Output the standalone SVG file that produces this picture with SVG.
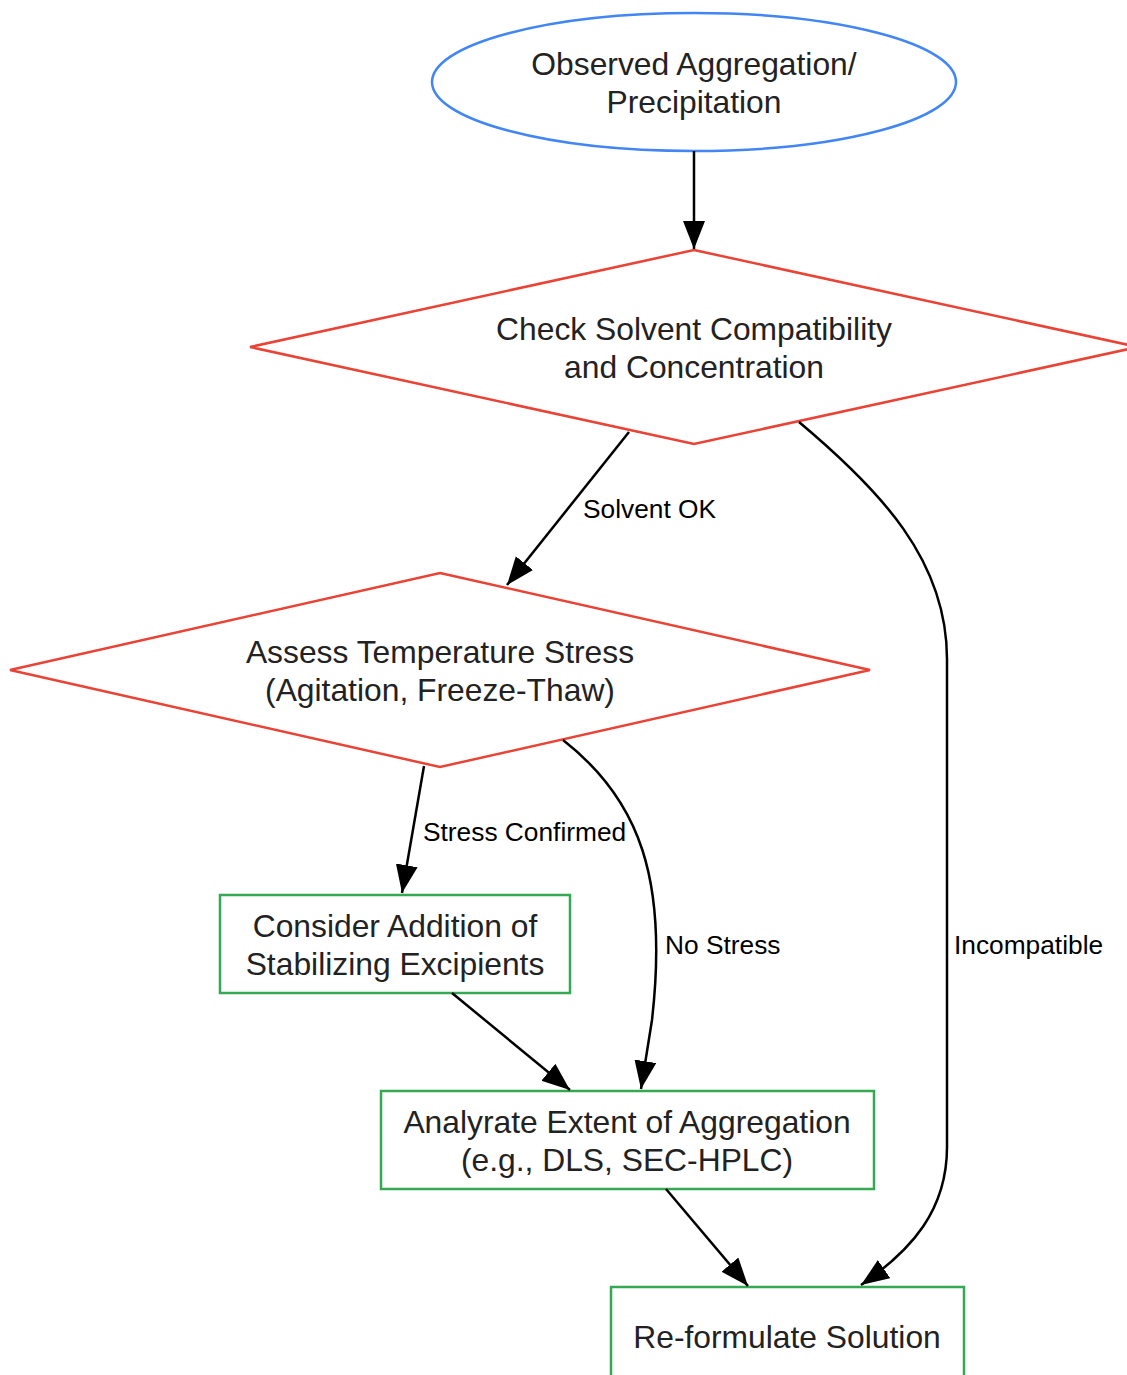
<svg xmlns="http://www.w3.org/2000/svg" width="1127" height="1375" viewBox="0 0 1127 1375">
<style>
.nt{font-family:"Liberation Sans",Arial,sans-serif;font-size:31.8px;fill:#222;text-anchor:middle}
.el{font-family:"Liberation Sans",Arial,sans-serif;font-size:26.3px;fill:#000}
.start{fill:#fff;stroke:#4285F4;stroke-width:2.5}
.dec{fill:#fff;stroke:#EA4335;stroke-width:2.5}
.proc{fill:#fff;stroke:#34A853;stroke-width:2.5}
.edge{fill:none;stroke:#000;stroke-width:2.5}
</style>
<defs>
<marker id="arr" markerUnits="userSpaceOnUse" markerWidth="30" markerHeight="24" refX="28" refY="11" orient="auto">
<path d="M0,0 L28,11 L0,22 z" fill="#000"/>
</marker>
</defs>
<rect width="1127" height="1375" fill="#fff"/>
<g id="n-start">
<ellipse class="start" cx="694" cy="82" rx="262" ry="69"/>
<text class="nt" x="694" y="75">Observed Aggregation/</text>
<text class="nt" x="694" y="113">Precipitation</text>
</g>
<g id="n-solvent">
<polygon class="dec" points="694,250 1138,347 694,444 250,347"/>
<text class="nt" x="694" y="340">Check Solvent Compatibility</text>
<text class="nt" x="694" y="378">and Concentration</text>
</g>
<g id="n-temp">
<polygon class="dec" points="440,573 870,670 440,767 10,670"/>
<text class="nt" x="440" y="663">Assess Temperature Stress</text>
<text class="nt" x="440" y="701">(Agitation, Freeze-Thaw)</text>
</g>
<g id="n-excip">
<rect class="proc" x="220" y="895" width="350" height="98"/>
<text class="nt" x="395" y="937">Consider Addition of</text>
<text class="nt" x="395" y="975">Stabilizing Excipients</text>
</g>
<g id="n-analy">
<rect class="proc" x="381" y="1091" width="493" height="98"/>
<text class="nt" x="627" y="1133">Analyrate Extent of Aggregation</text>
<text class="nt" x="627" y="1171">(e.g., DLS, SEC-HPLC)</text>
</g>
<g id="n-reform">
<rect class="proc" x="611" y="1287" width="353" height="98"/>
<text class="nt" x="787" y="1348">Re-formulate Solution</text>
</g>
<g id="connectors">
<path class="edge" marker-end="url(#arr)" d="M694,151 L694,249"/>
<path class="edge" marker-end="url(#arr)" d="M629,432 L507,585"/>
<path class="edge" marker-end="url(#arr)" d="M799,422 C880,490 947,560 947,659 L947,1147 C947,1210 912,1250 861,1285"/>
<path class="edge" marker-end="url(#arr)" d="M424,766 L402,893"/>
<path class="edge" marker-end="url(#arr)" d="M563,740 C640,800 668,880 652,1020 L641,1089"/>
<path class="edge" marker-end="url(#arr)" d="M452,993 L570,1090"/>
<path class="edge" marker-end="url(#arr)" d="M666,1189 L748,1286"/>
<text class="el" x="583" y="518">Solvent OK</text>
<text class="el" x="423" y="841">Stress Confirmed</text>
<text class="el" x="665" y="954">No Stress</text>
<text class="el" x="954" y="954">Incompatible</text>
</g>
</svg>
